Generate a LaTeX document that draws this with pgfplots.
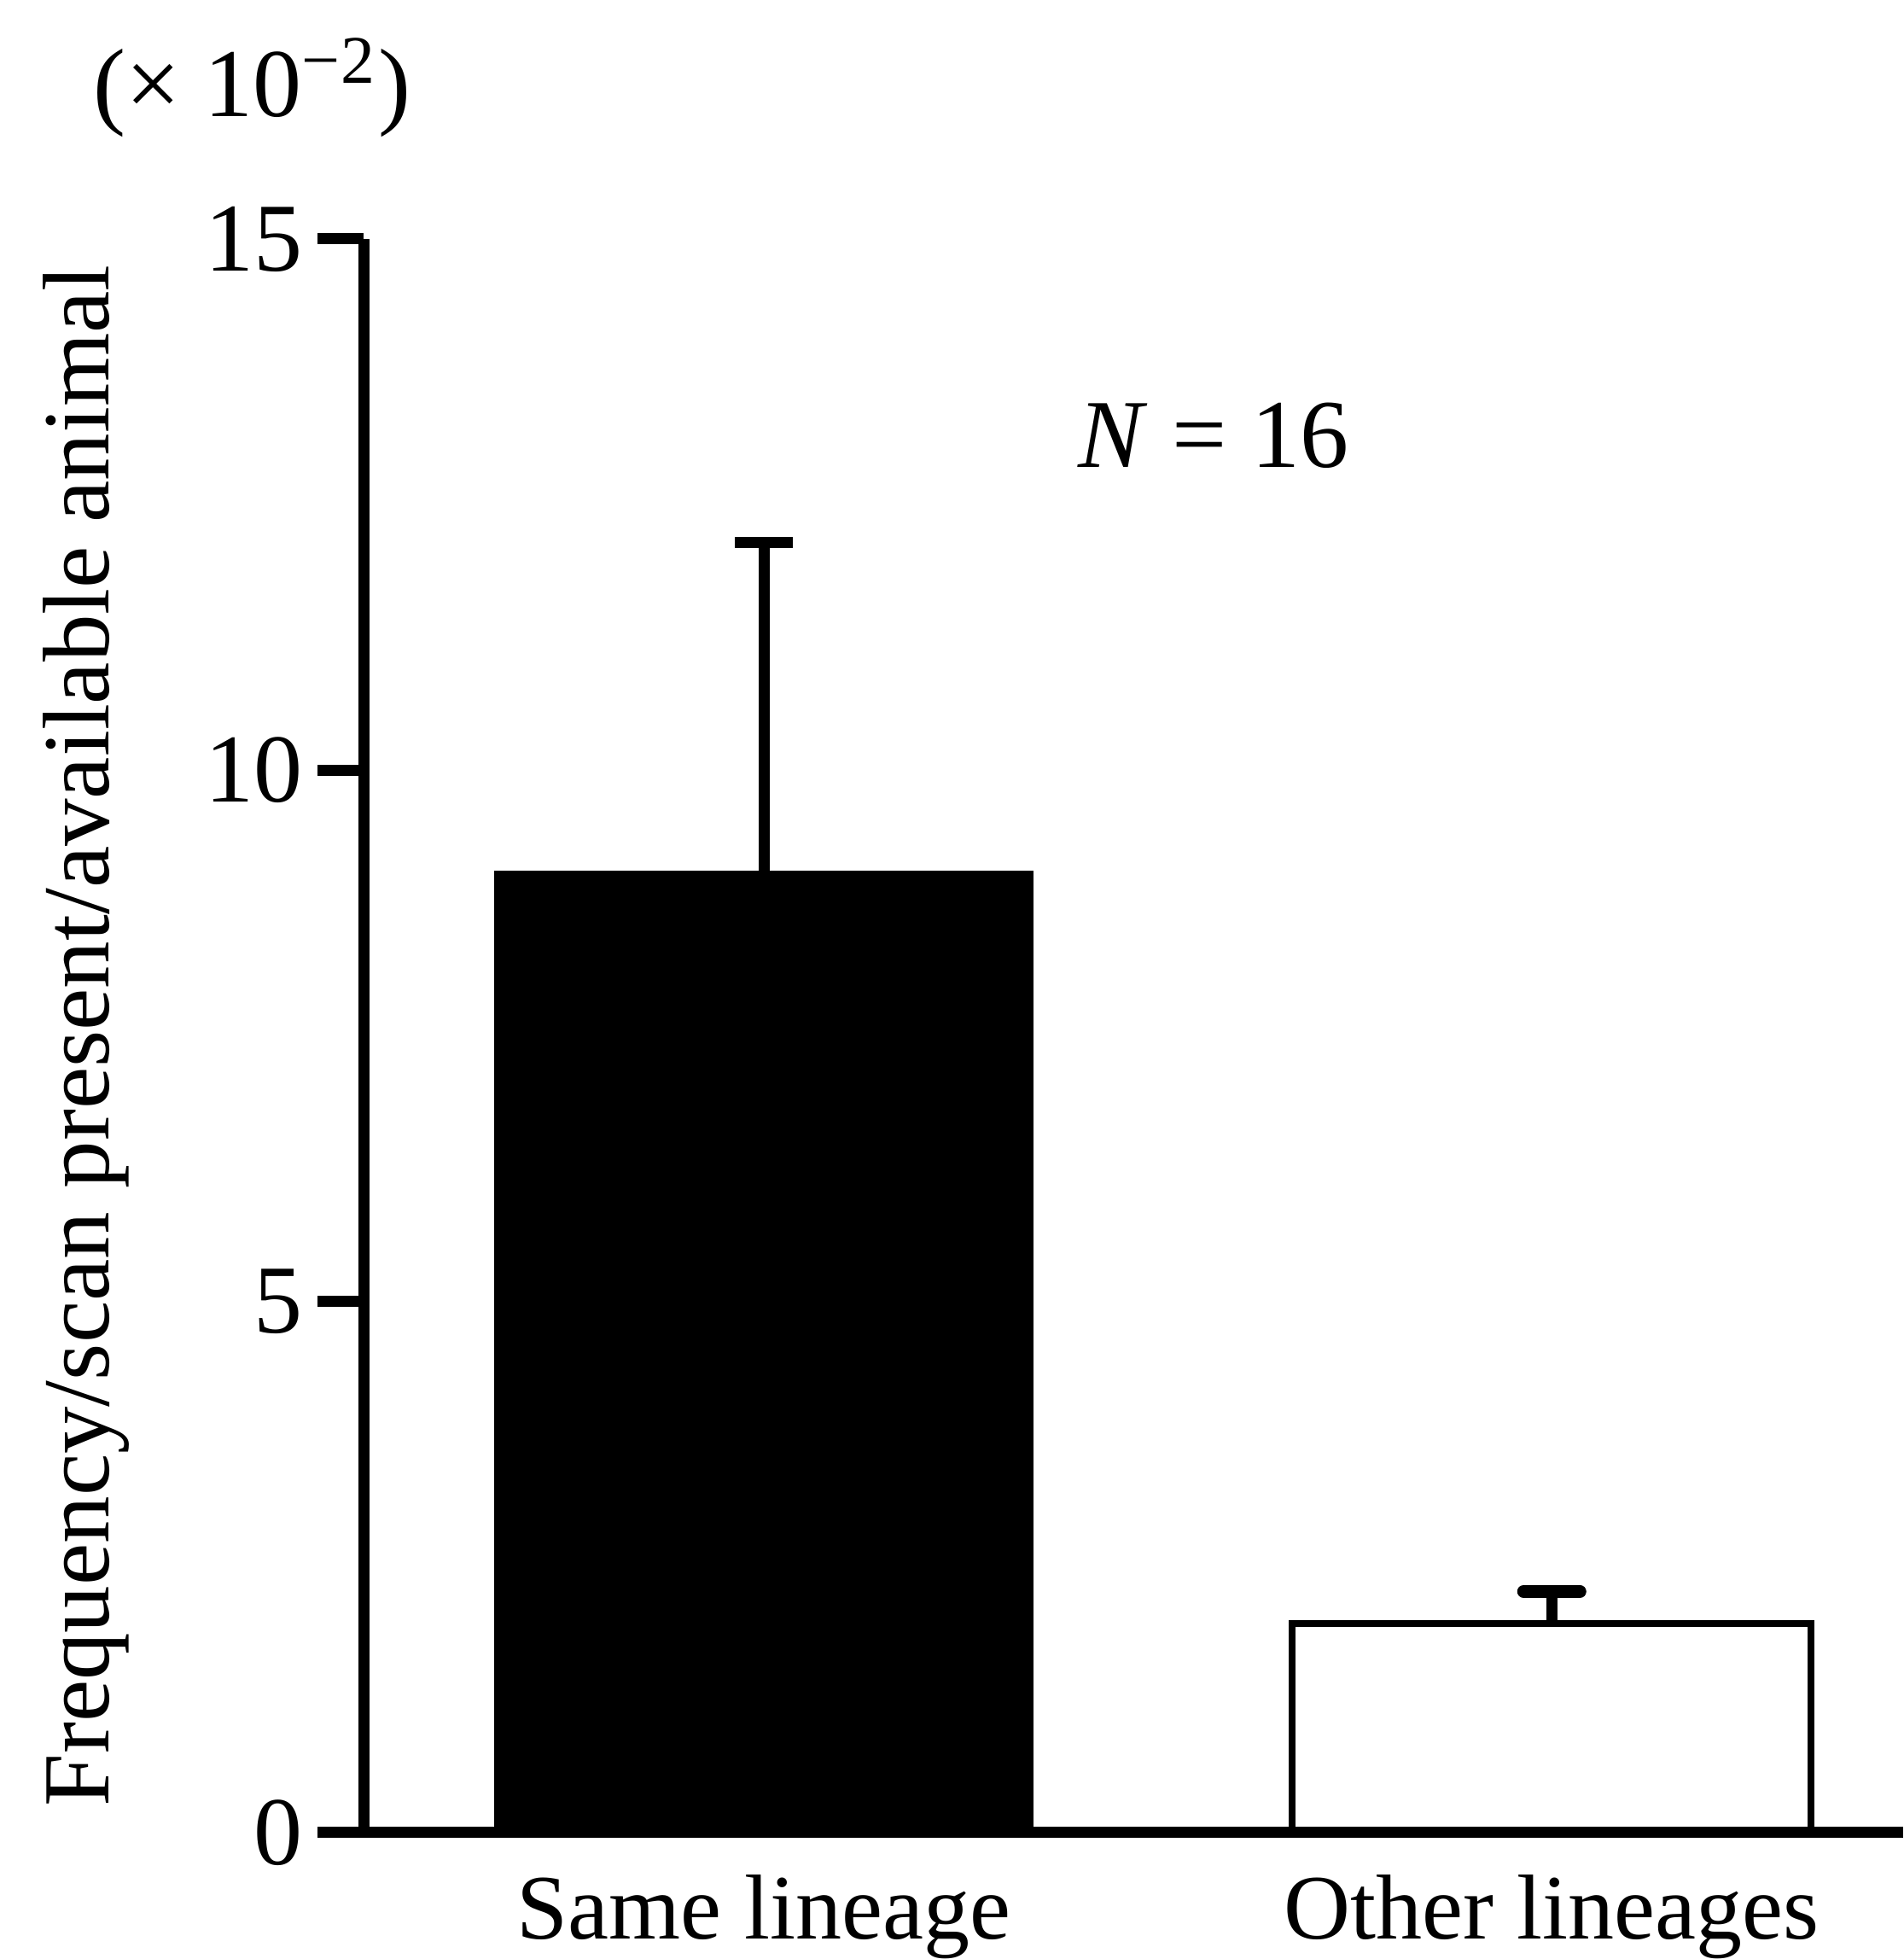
\documentclass[border=0pt]{standalone}
\usepackage{fontspec}
\setmainfont{Liberation Serif}
\usepackage{pgfplots}
\pgfplotsset{compat=1.18}
\begin{document}
\begin{tikzpicture}
\begin{axis}[
  name=ax,
  scale only axis,
  width=180.4pt, height=186.7pt,
  xmin=-0.508, xmax=1.446,
  ymin=0, ymax=15,
  axis x line*=bottom, axis y line*=left,
  axis line style={line width=1.3pt, black},
  axis on top,
  clip=false,
  ytick={0,5,10,15},
  xtick={0,1},
  xticklabels={Same lineage, Other lineages},
  x tick style={draw=none},
  y tick style={line width=1.3pt, black},
  tick align=outside,
  major tick length=5.4pt,
  /pgf/number format/assume math mode=true,
  yticklabel style={font=\fontsize{11.4}{13}\selectfont, xshift=1.8pt},
  xticklabel style={font=\fontsize{10.8}{13}\selectfont, yshift=4pt},
  ylabel={Frequency/scan present/available animal},
  ylabel style={font=\fontsize{11.1}{13}\selectfont, at={(rel axis cs:-0.1656,0.5)}, anchor=base},
  ybar, bar shift=0pt,
]
\addplot[fill=black, draw=black, bar width=0.68,
  error bars/.cd, y dir=plus, y explicit,
  error bar style={line width=1.3pt, black},
  error mark options={rotate=90, line width=1.3pt, mark size=3.4pt, black}]
  coordinates {(0,9.04) +- (0,3.10)};
\addplot[fill=white, draw=black, line width=0.8pt, bar width=0.659,
  error bars/.cd, y dir=plus, y explicit,
  error bar style={line width=1.3pt, black},
  error mark options={rotate=90, line width=1.5pt, mark size=3.3pt, black, line cap=round}]
  coordinates {(1,1.97) +- (0,0.30)};
\node[anchor=base west, inner sep=0pt, font=\fontsize{11.4}{13}\selectfont] at (rel axis cs:-0.1767,1.0766) {(×\ 10\textsuperscript{−2})};
\node[anchor=base, font=\fontsize{11.4}{13}\selectfont] at (axis cs:0.571,12.85) {\textit{N} = 16};
\end{axis}
\pgfresetboundingbox
\path ([shift={(-42.6pt,-14.8pt)}]ax.south west) rectangle ([shift={(0pt,28pt)}]ax.north east);
\end{tikzpicture}
\end{document}
